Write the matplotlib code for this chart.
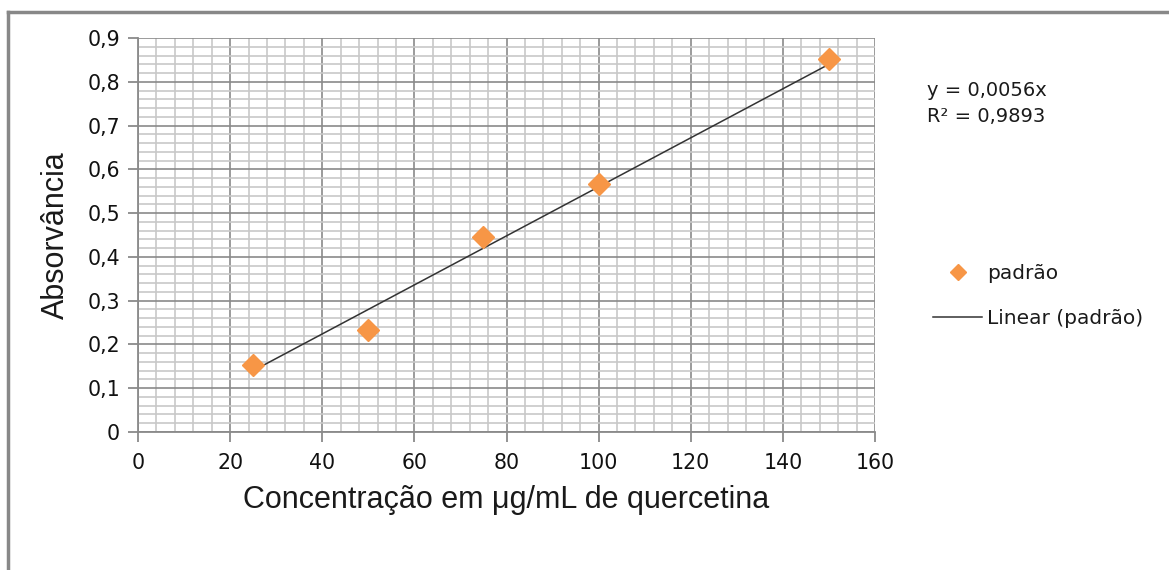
import matplotlib
matplotlib.use("Agg")
import matplotlib.pyplot as plt
from matplotlib.lines import Line2D
from matplotlib.ticker import MultipleLocator, FuncFormatter
import numpy as np

# Data
concentracao = [25, 50, 75, 100, 150]
absorvancia = [0.152, 0.232, 0.445, 0.566, 0.851]
slope = 0.0056
r2_text = "0,9893"
x_ticks = [0, 20, 40, 60, 80, 100, 120, 140, 160]
y_ticks = [0, 0.1, 0.2, 0.3, 0.4, 0.5, 0.6, 0.7, 0.8, 0.9]

label_font = "DejaVu Sans"
title_font = "Liberation Sans"
orange = "#F79646"

fig = plt.figure(figsize=(11.69, 5.70), dpi=100)
ax = fig.add_axes([138/1169, 1-432/570, (875-138)/1169, (432-38)/570])

ax.set_xlim(0, 160)
ax.set_ylim(0, 0.9)
ax.xaxis.set_minor_locator(MultipleLocator(4))
ax.yaxis.set_minor_locator(MultipleLocator(0.02))
ax.set_xticks(x_ticks)
ax.set_yticks(y_ticks)

def fmt(v, pos):
    if abs(v) < 1e-9:
        return "0"
    return ("%.1f" % v).replace(".", ",")
ax.yaxis.set_major_formatter(FuncFormatter(fmt))
ax.xaxis.set_major_formatter(FuncFormatter(lambda v, p: "%d" % round(v)))

ax.grid(which="minor", color="#c8c8c8", linewidth=1.2)
ax.grid(which="major", color="#8a8a8a", linewidth=1.2)
ax.set_axisbelow(True)

for s in ["top", "right"]:
    ax.spines[s].set_visible(False)
for s in ["left", "bottom"]:
    ax.spines[s].set_color("#8a8a8a")
    ax.spines[s].set_linewidth(1.3)

ax.tick_params(which="major", direction="out", length=7, width=1.3, color="#8a8a8a",
               labelsize=14.8, labelcolor="#111111")
ax.tick_params(axis="y", which="major", pad=6)
ax.tick_params(axis="x", which="major", pad=8)
ax.tick_params(which="minor", length=0)
for lab in ax.get_xticklabels() + ax.get_yticklabels():
    lab.set_fontfamily(label_font)

# trendline
xt = np.array([min(concentracao), max(concentracao)])
ax.plot(xt, slope * xt, color="#333333", linewidth=1.1, zorder=3)
ax.plot(concentracao, absorvancia, linestyle="none", marker="D", markersize=11,
        color=orange, markeredgecolor=orange, zorder=4, clip_on=False)

ax.set_xlabel("Concentração em μg/mL de quercetina", fontsize=22, fontfamily=title_font,
              color="#1a1a1a", labelpad=9)
ax.set_ylabel("Absorvância", fontsize=22, fontfamily=title_font, color="#1a1a1a", labelpad=12)

# equation text
fig.text(927/1169, 1-90/570, "y = 0,0056x", fontsize=14, fontfamily=label_font,
         color="#1a1a1a", va="center", ha="left")
fig.text(927/1169, 1-117/570, "R² = " + r2_text, fontsize=14, fontfamily=label_font,
         color="#1a1a1a", va="center", ha="left")

# legend
handles = [Line2D([], [], linestyle="none", marker="D", markersize=8, color=orange),
           Line2D([], [], color="#333333", linewidth=1.1)]
leg = fig.legend(handles, ["padrão", "Linear (padrão)"], loc="center left",
                 bbox_to_anchor=(933/1169, 1-296/570), frameon=False,
                 prop={"family": label_font, "size": 14.5}, handlelength=2.45,
                 handletextpad=0.25, labelspacing=1.25, borderpad=0, borderaxespad=0)
for t in leg.get_texts():
    t.set_color("#1a1a1a")

# outer border (top and left only visible)
fig.add_artist(Line2D([8/1169, 1], [1-12/570, 1-12/570], color="#888888", linewidth=2.5,
                      transform=fig.transFigure))
fig.add_artist(Line2D([8/1169, 8/1169], [0, 1-12/570], color="#888888", linewidth=2.5,
                      transform=fig.transFigure))

fig.savefig("out.png", dpi=100)
